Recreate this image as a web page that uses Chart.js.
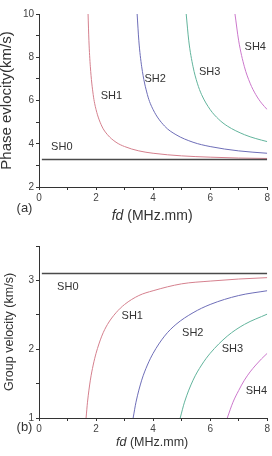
<!DOCTYPE html>
<html>
<head>
<meta charset="utf-8">
<script src="https://cdn.jsdelivr.net/npm/chart.js@4"></script>
<style>
  html, body { margin: 0; padding: 0; background: #fff; }
  canvas { display: block; }
</style>
</head>
<body>
<canvas id="phaseChart" width="272" height="225"></canvas>
<canvas id="groupChart" width="272" height="231"></canvas>
<script>
// --- data (fd in MHz.mm, velocity in km/s) ---
const modeNames = ['SH0', 'SH1', 'SH2', 'SH3', 'SH4'];
const modeColors = ['#4a4a4a', '#d5808e', '#6e6eb8', '#62b49c', '#cc78cc'];

// (a) phase velocity
const phaseSH0_fd = [0.1, 8];
const phaseSH0_v  = [3.27, 3.27];
const phaseSH1_fd = [1.72, 1.75, 1.8, 1.9, 2.0, 2.2, 2.4, 2.7, 3.0, 3.5, 4.0, 5.0, 6.0, 7.0, 8.0];
const phaseSH1_v  = [10, 8.76, 7.56, 6.27, 5.58, 4.82, 4.42, 4.07, 3.87, 3.67, 3.56, 3.44, 3.38, 3.34, 3.32];
const phaseSH2_fd = [3.44, 3.5, 3.6, 3.8, 4.0, 4.4, 4.8, 5.4, 6.0, 7.0, 8.0];
const phaseSH2_v  = [10, 8.76, 7.56, 6.27, 5.58, 4.82, 4.42, 4.07, 3.87, 3.67, 3.56];
const phaseSH3_fd = [5.16, 5.25, 5.4, 5.55, 5.7, 6.0, 6.3, 6.6, 7.2, 7.6, 8.0];
const phaseSH3_v  = [10, 8.76, 7.56, 6.80, 6.27, 5.58, 5.13, 4.82, 4.42, 4.24, 4.10];
const phaseSH4_fd = [6.87, 7.0, 7.2, 7.4, 7.6, 7.8, 8.0];
const phaseSH4_v  = [10, 8.76, 7.56, 6.80, 6.27, 5.88, 5.58];

// (b) group velocity
const groupSH0_fd = [0.1, 8];
const groupSH0_v  = [3.1, 3.1];
const groupSH1_fd = [1.65, 1.7, 1.8, 1.9, 2.0, 2.2, 2.4, 2.7, 3.0, 3.5, 4.0, 5.0, 6.0, 7.0, 8.0];
const groupSH1_v  = [1.0, 1.23, 1.55, 1.77, 1.94, 2.19, 2.36, 2.53, 2.65, 2.78, 2.85, 2.95, 2.99, 3.02, 3.04];
const groupSH2_fd = [3.3, 3.4, 3.6, 3.8, 4.0, 4.4, 4.8, 5.4, 6.0, 7.0, 8.0];
const groupSH2_v  = [1.0, 1.23, 1.55, 1.77, 1.94, 2.19, 2.36, 2.53, 2.65, 2.78, 2.85];
const groupSH3_fd = [4.95, 5.1, 5.4, 5.7, 6.0, 6.6, 7.2, 8.0];
const groupSH3_v  = [1.0, 1.23, 1.55, 1.77, 1.94, 2.19, 2.36, 2.51];
const groupSH4_fd = [6.6, 6.8, 7.0, 7.2, 7.4, 7.6, 7.8, 8.0];
const groupSH4_v  = [1.0, 1.23, 1.40, 1.55, 1.67, 1.77, 1.86, 1.94];

// where the mode names sit (data coords)
const phaseLabelX = [0.8, 2.54, 4.07, 5.98, 7.58];
const phaseLabelY = [3.84, 6.21, 7.0, 7.32, 8.48];
const groupLabelX = [1.01, 3.27, 5.39, 6.78, 7.62];
const groupLabelY = [2.91, 2.49, 2.24, 2.01, 1.39];

// axis ticks
const fdLabels = [0, 2, 4, 6, 8];
const phaseTickLabels = [2, 4, 6, 8, 10];
const groupTickLabels = [1, 2, 3];

const FONT = '"Liberation Sans", Arial, sans-serif';

const pts = (xs, ys) => xs.map((x, i) => ({ x: x, y: ys[i] }));

function makeSets(fdList, vList) {
    return fdList.map((fd, i) => ({
        label: modeNames[i],
        data: pts(fd, vList[i]),
        borderColor: modeColors[i],
        borderWidth: i === 0 ? 1.6 : 1,
        pointRadius: 0,
        showLine: true,
        fill: false,
        cubicInterpolationMode: 'monotone'
    }));
}

// mode names, panel letter and the fd axis title (fd in italics)
const textPlugin = {
    id: 'figText',
    afterDraw(chart, args, o) {
        const { ctx, chartArea, scales } = chart;
        ctx.save();
        ctx.fillStyle = '#333';
        ctx.textAlign = 'center';
        ctx.textBaseline = 'middle';
        ctx.font = '11px ' + FONT;
        modeNames.forEach((n, i) => {
            ctx.fillText(n, scales.x.getPixelForValue(o.xs[i]), scales.y.getPixelForValue(o.ys[i]));
        });

        ctx.font = '13px ' + FONT;
        ctx.fillText(o.letter, 24.5, chartArea.bottom + o.letterDy);

        ctx.font = o.titleSize + 'px ' + FONT;
        const rest = o.gap + '(MHz.mm)';
        const wRest = ctx.measureText(rest).width;
        ctx.font = 'italic ' + o.titleSize + 'px ' + FONT;
        const wFd = ctx.measureText('fd').width;
        const cx = (chartArea.left + chartArea.right) / 2 - 1;
        const x0 = cx - (wFd + wRest) / 2;
        const ty = chartArea.bottom + o.titleDy;
        ctx.textAlign = 'left';
        ctx.fillText('fd', x0, ty);
        ctx.font = o.titleSize + 'px ' + FONT;
        ctx.fillText(rest, x0 + wFd, ty);
        ctx.restore();
    }
};

function axisX() {
    return {
        type: 'linear', min: 0, max: 8,
        afterFit: (s) => { s.height = 38; },
        border: { color: '#333', width: 1 },
        grid: { display: true, drawOnChartArea: false, drawTicks: true, tickLength: 3, color: '#333' },
        ticks: {
            stepSize: 1, padding: 2, color: '#444', font: { size: 10, family: FONT },
            maxRotation: 0,
            callback: (v) => fdLabels.includes(v) ? String(v) : ''
        }
    };
}

function axisY(min, max, step, labels, title, size, pad) {
    return {
        type: 'linear', min: min, max: max,
        afterFit: (s) => { s.width = 39; },
        border: { color: '#333', width: 1 },
        grid: { display: true, drawOnChartArea: false, drawTicks: true, tickLength: 3, color: '#333' },
        ticks: {
            stepSize: step, padding: 2, color: '#444', font: { size: 10, family: FONT },
            callback: (v) => labels.includes(v) ? String(v) : ''
        },
        title: {
            display: true, text: title, color: '#333',
            font: { size: size, family: FONT, lineHeight: 1 },
            padding: { top: pad, bottom: 0 }
        }
    };
}

// --- (a) Phase velocity ---
const phaseChart = new Chart(document.getElementById('phaseChart'), {
    type: 'scatter',
    data: {
        datasets: makeSets(
            [phaseSH0_fd, phaseSH1_fd, phaseSH2_fd, phaseSH3_fd, phaseSH4_fd],
            [phaseSH0_v, phaseSH1_v, phaseSH2_v, phaseSH3_v, phaseSH4_v])
    },
    options: {
        responsive: false,
        animation: false,
        devicePixelRatio: 1,
        layout: { padding: { top: 14, right: 3, left: 0, bottom: 0 } },
        plugins: {
            legend: { display: false },
            tooltip: { enabled: false },
            figText: { xs: phaseLabelX, ys: phaseLabelY, letter: '(a)', letterDy: 21,
                       titleSize: 14, titleDy: 29, gap: ' ' }
        },
        scales: {
            x: axisX(),
            y: axisY(2, 10, 1, phaseTickLabels, 'Phase evlocity(km/s)', 15, -1)
        }
    },
    plugins: [textPlugin]
});

// --- (b) Group velocity ---
const groupChart = new Chart(document.getElementById('groupChart'), {
    type: 'scatter',
    data: {
        datasets: makeSets(
            [groupSH0_fd, groupSH1_fd, groupSH2_fd, groupSH3_fd, groupSH4_fd],
            [groupSH0_v, groupSH1_v, groupSH2_v, groupSH3_v, groupSH4_v])
    },
    options: {
        responsive: false,
        animation: false,
        devicePixelRatio: 1,
        layout: { padding: { top: 21, right: 3, left: 0, bottom: 0 } },
        plugins: {
            legend: { display: false },
            tooltip: { enabled: false },
            figText: { xs: groupLabelX, ys: groupLabelY, letter: '(b)', letterDy: 9,
                       titleSize: 12.5, titleDy: 25, gap: ' ' }
        },
        scales: {
            x: axisX(),
            y: axisY(1, 3.5, 0.5, groupTickLabels, 'Group velocity (km/s)', 12.5, 3)
        }
    },
    plugins: [textPlugin]
});
</script>
</body>
</html>
